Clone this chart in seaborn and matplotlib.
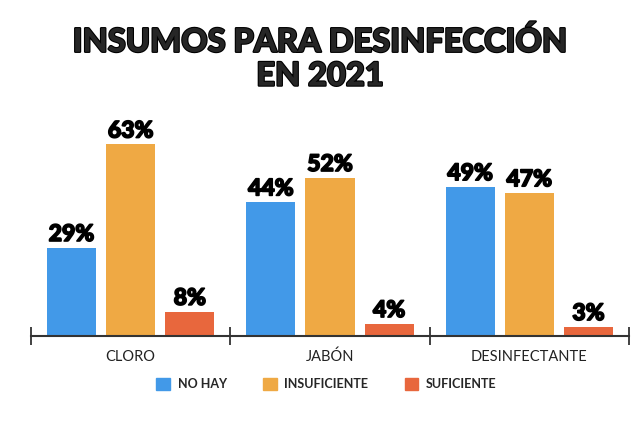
import matplotlib
matplotlib.use('Agg')
import matplotlib.pyplot as plt
import matplotlib.patheffects as pe
import seaborn as sns
import pandas as pd
from matplotlib.patches import Patch

insumos = ['CLORO', 'JABÓN', 'DESINFECTANTE']
niveles = ['NO HAY', 'INSUFICIENTE', 'SUFICIENTE']
no_hay = [29, 44, 49]
insuficiente = [63, 52, 47]
suficiente = [8, 4, 3]
colores = ['#4299E8', '#EFA944', '#E8673D']

df = pd.DataFrame({
    'insumo': insumos * 3,
    'nivel': [niveles[0]] * 3 + [niveles[1]] * 3 + [niveles[2]] * 3,
    'pct': no_hay + insuficiente + suficiente,
})

sns.set_style('white')
plt.rcParams['font.family'] = ['Lato', 'DejaVu Sans']

grueso = [pe.withStroke(linewidth=1.2, foreground='black')]

fig = plt.figure(figsize=(6.4, 4.3), dpi=100)
ax = fig.add_axes([31 / 640, 94 / 430, 598 / 640, 216 / 430])

sns.barplot(data=df, x='insumo', y='pct', hue='nivel', order=insumos,
            hue_order=niveles, palette=colores, width=0.89, gap=0.17,
            linewidth=0, saturation=1, ax=ax, legend=False)

for cont in ax.containers:
    labs = ax.bar_label(cont, fmt='%d%%', padding=2, fontsize=16.5,
                        fontweight='black', color='black')
    for t in labs:
        t.set_path_effects(grueso)

ax.set_xlim(-0.5, 2.5)
ax.set_ylim(0, 71)
ax.set_xlabel('')
ax.set_ylabel('')
ax.set_yticks([])
for s in ['top', 'right', 'left']:
    ax.spines[s].set_visible(False)
ax.spines['bottom'].set_color('#333333')
ax.spines['bottom'].set_linewidth(1.5)
ax.tick_params(axis='x', which='major', bottom=False, length=0, pad=10,
               labelsize=10.5, labelcolor='#222222')
ax.set_xticks([-0.5, 0.5, 1.5, 2.5], minor=True)
ax.tick_params(axis='x', which='minor', bottom=True, direction='inout',
               length=13, width=1.3, color='#333333')

titulo = fig.text(0.5, 0.864, 'INSUMOS PARA DESINFECCIÓN\nEN 2021', ha='center',
                  va='center', fontsize=23.5, fontweight='black', linespacing=1.2)
titulo.set_path_effects([pe.withStroke(linewidth=1.6, foreground='black')])

handles = [Patch(color=c, label=n) for c, n in zip(colores, niveles)]
leg = fig.legend(handles=handles, loc='center', bbox_to_anchor=(0.51, 0.107),
                 ncol=3, frameon=False, handlelength=1.1, handleheight=1.1,
                 columnspacing=2.9, handletextpad=0.6,
                 prop={'weight': 'bold', 'size': 9})

fig.savefig('out.png', dpi=100)
